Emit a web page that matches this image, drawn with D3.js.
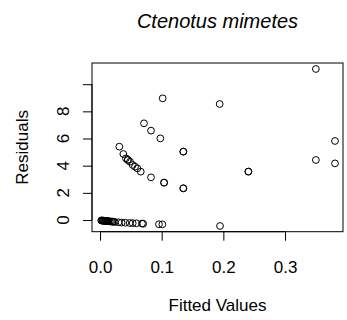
<!DOCTYPE html>
<html>
<head>
<meta charset="utf-8">
<script src="https://cdn.jsdelivr.net/npm/d3@7"></script>
<style>
  html, body { margin: 0; padding: 0; background: #fff; }
  svg { display: block; font-family: "Liberation Sans", Arial, sans-serif; }
</style>
</head>
<body>
<div id="chart"></div>
<script>
// data
const title = "Ctenotus mimetes";
const xLabel = "Fitted Values";
const yLabel = "Residuals";

const fittedValues = [
    // points above zero
    0.1016, 0.1940, 0.0713, 0.0827, 0.0978, 0.0313, 0.1350, 0.1352,
    0.0378, 0.0420, 0.0450, 0.0452, 0.0486, 0.0530, 0.0568, 0.0605,
    0.0660, 0.0827, 0.1038, 0.1040, 0.1350, 0.1352, 0.3500, 0.3810,
    0.3500, 0.3810, 0.2405, 0.2407,
    // near-zero row
    0.0020, 0.0030, 0.0040, 0.0050, 0.0060, 0.0070, 0.0080, 0.0090,
    0.0100, 0.0110, 0.0120, 0.0130, 0.0140, 0.0160, 0.0180, 0.0200,
    0.0220, 0.0240, 0.0300, 0.0350, 0.0410, 0.0480, 0.0530, 0.0590,
    0.0680, 0.0700, 0.0956, 0.1011, 0.1946
];
const residuals = [
    8.96, 8.54, 7.12, 6.58, 6.01, 5.40, 5.03, 5.04,
    4.86, 4.54, 4.42, 4.43, 4.29, 4.05, 3.93, 3.80,
    3.56, 3.14, 2.75, 2.76, 2.33, 2.34, 11.12, 5.82,
    4.42, 4.17, 3.56, 3.57,
    -0.03, -0.04, -0.04, -0.05, -0.05, -0.06, -0.06, -0.07,
    -0.07, -0.08, -0.08, -0.09, -0.09, -0.10, -0.11, -0.12,
    -0.13, -0.14, -0.17, -0.19, -0.20, -0.22, -0.23, -0.24,
    -0.26, -0.27, -0.31, -0.32, -0.44
];
const xTicks = [0, 0.1, 0.2, 0.3];
const yTicks = [0, 2, 4, 6, 8, 10];
const yTickLabels = ["0", "2", "4", "6", "8", ""];

const w = 347, h = 320;
const box = { left: 92, right: 343, top: 63, bottom: 231.7 };
const tickLen = 9;
const fontSize = 17;

const points = fittedValues.map((f, i) => ({ x: f, y: residuals[i] }));

const x = d3.scaleLinear()
    .domain([-0.013, 0.394])
    .range([box.left, box.right]);

const y = d3.scaleLinear()
    .domain([-0.86, 11.56])
    .range([box.bottom, box.top]);

const svg = d3.select("#chart").append("svg")
    .attr("width", w)
    .attr("height", h);

// plot frame
svg.append("rect")
    .attr("x", box.left)
    .attr("y", box.top)
    .attr("width", box.right - box.left)
    .attr("height", box.bottom - box.top)
    .attr("fill", "none")
    .attr("stroke", "#000")
    .attr("stroke-width", 1);

// x axis, R style: line only spans first to last tick
const xAxis = svg.append("g")
    .attr("transform", `translate(0,${ box.bottom })`)
    .call(d3.axisBottom(x).tickValues(xTicks).tickSize(tickLen).tickSizeOuter(0).tickFormat(d3.format(".1f")));
xAxis.select(".domain").remove();
xAxis.append("line")
    .attr("x1", x(xTicks[0])).attr("x2", x(xTicks[xTicks.length - 1]))
    .attr("stroke", "#000");
xAxis.selectAll(".tick line").attr("stroke", "#000");
xAxis.selectAll(".tick text")
    .attr("y", 41)
    .attr("dy", null)
    .attr("fill", "#000")
    .style("font-size", `${ fontSize }px`)
    .style("font-family", "'Liberation Sans', Arial, sans-serif");

// y axis with rotated labels
const yAxis = svg.append("g")
    .attr("transform", `translate(${ box.left },0)`)
    .call(d3.axisLeft(y).tickValues(yTicks).tickSize(tickLen).tickSizeOuter(0).tickFormat(""));
yAxis.select(".domain").remove();
yAxis.append("line")
    .attr("y1", y(yTicks[0])).attr("y2", y(yTicks[yTicks.length - 1]))
    .attr("stroke", "#000");
yAxis.selectAll(".tick line").attr("stroke", "#000");

svg.append("g")
    .selectAll("text")
    .data(yTicks)
    .enter()
    .append("text")
    .attr("transform", (d) => `translate(68.5,${ y(d) }) rotate(-90)`)
    .attr("text-anchor", "middle")
    .style("font-size", `${ fontSize }px`)
    .text((d, i) => yTickLabels[i]);

// points
svg.append("g")
    .selectAll("circle")
    .data(points)
    .enter()
    .append("circle")
    .attr("cx", d => x(d.x))
    .attr("cy", d => y(d.y))
    .attr("r", 3.4)
    .attr("fill", "none")
    .attr("stroke", "#000")
    .attr("stroke-width", 1);

// titles
const cx = (box.left + box.right) / 2;
svg.append("text")
    .attr("x", cx)
    .attr("y", 27.5)
    .attr("text-anchor", "middle")
    .style("font-size", "20px")
    .style("font-style", "italic")
    .text(title);

svg.append("text")
    .attr("x", cx)
    .attr("y", 311)
    .attr("text-anchor", "middle")
    .style("font-size", `${ fontSize }px`)
    .text(xLabel);

svg.append("text")
    .attr("transform", `translate(27.5,${ (box.top + box.bottom) / 2 }) rotate(-90)`)
    .attr("text-anchor", "middle")
    .style("font-size", `${ fontSize }px`)
    .text(yLabel);
</script>
</body>
</html>
